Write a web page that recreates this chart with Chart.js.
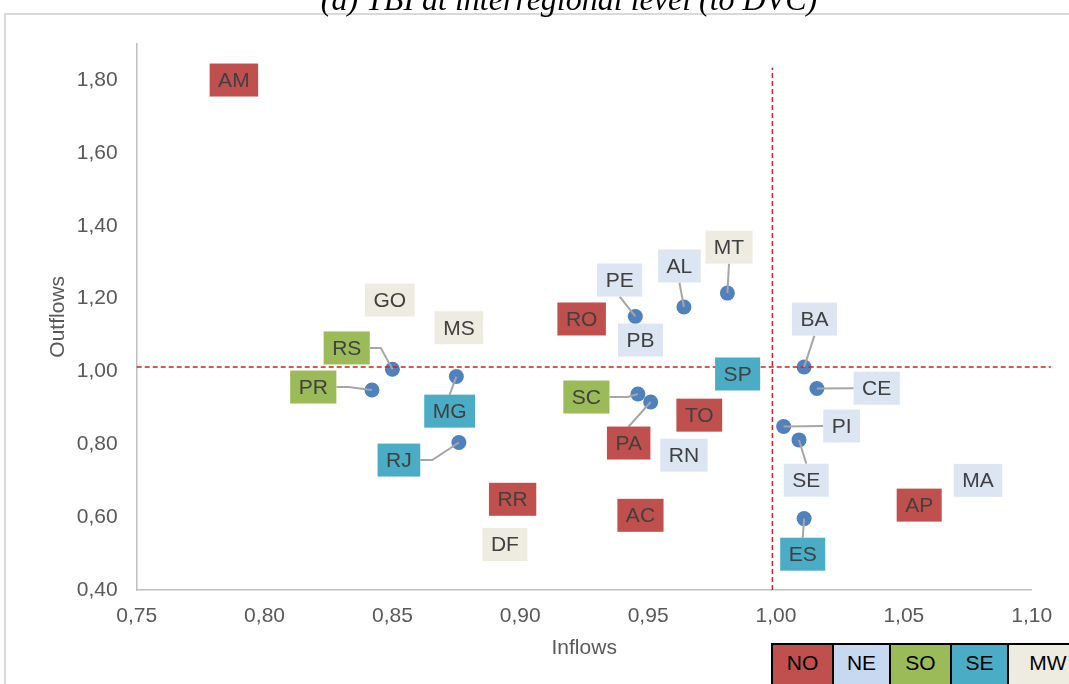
<!DOCTYPE html>
<html>
<head>
<meta charset="utf-8">
<script src="https://cdn.jsdelivr.net/npm/chart.js@4.4.1/dist/chart.umd.min.js"></script>
<style>
  html, body { margin: 0; padding: 0; background: #fff; }
  #wrap { position: relative; width: 1069px; height: 684px; overflow: hidden; }
  #frame { position: absolute; left: 4px; top: 13px; width: 1120px; height: 720px;
           border: 2px solid #d9d9d9; box-sizing: border-box; }
  #chart { position: absolute; left: 0; top: 0; }
  #legend { position: absolute; left: 771px; top: 643px; display: flex; height: 60px;
            border-top: 2px solid #000; border-left: 2px solid #000; }
  #legend div { height: 100%; border-right: 2px solid #000; box-sizing: border-box;
                font-family: "Liberation Sans Narrow", "Arial Narrow", "Liberation Sans", sans-serif;
                font-size: 21px; color: #000; text-align: center; line-height: 36px; }
</style>
</head>
<body>
<div id="wrap">
  <div id="frame"></div>
  <canvas id="chart" width="1069" height="684"></canvas>
  <div id="legend"></div>
</div>
<script>
// states and their TBI values
const STATES   = ['AM', 'GO', 'MS', 'RS', 'PR', 'MG', 'RJ', 'RR', 'DF', 'RO', 'PE', 'PB', 'AL', 'MT',
                  'SP', 'SC', 'PA', 'TO', 'RN', 'AC', 'BA', 'CE', 'PI', 'SE', 'ES', 'AP', 'MA'];
const INFLOWS  = [0.788, 0.849, 0.876, 0.850, 0.842, 0.875, 0.876, 0.897, 0.894, 0.924, 0.945, 0.947, 0.964, 0.981,
                  0.985, 0.946, 0.951, 0.970, 0.964, 0.947, 1.011, 1.016, 1.003, 1.009, 1.011, 1.056, 1.079];
const OUTFLOWS = [1.800, 1.196, 1.120, 1.006, 0.949, 0.986, 0.805, 0.649, 0.525, 1.144, 1.151, 1.086, 1.177, 1.215,
                  0.993, 0.938, 0.916, 0.880, 0.770, 0.605, 1.012, 0.953, 0.849, 0.812, 0.596, 0.633, 0.701];
const REGIONS  = ['NO', 'MW', 'MW', 'SO', 'SO', 'SE', 'SE', 'NO', 'MW', 'NO', 'NE', 'NE', 'NE', 'MW',
                  'SE', 'SO', 'NO', 'NO', 'NE', 'NO', 'NE', 'NE', 'NE', 'NE', 'SE', 'NO', 'NE'];

const REGION_NAMES = ['NO', 'NE', 'SO', 'SE', 'MW'];

const X_TICKS = [0.75, 0.80, 0.85, 0.90, 0.95, 1.00, 1.05, 1.10];
const Y_TICKS = [0.40, 0.60, 0.80, 1.00, 1.20, 1.40, 1.60, 1.80];

// reference (mean) lines
const REF_X = 0.9986;
const REF_Y = 1.012;
const REF_X_TOP = 1.834;
const REF_Y_END = 1.1075;

const REGION_COLORS = { NO: '#C0504D', NE: '#DCE6F2', SO: '#9BBB59', SE: '#4BACC6', MW: '#EEECE1' };
const LEGEND_COLORS = { NO: '#C0504D', NE: '#C6D9F1', SO: '#9BBB59', SE: '#4BACC6', MW: '#EEECE1' };
const LEGEND_WIDTHS = { NO: 61, NE: 57, SO: 61, SE: 57, MW: 80 };

// label boxes that were dragged away from their point (pixel offsets)
const LABEL_MOVES = {
  RS: { dx: -45.7, dy: -21.3, from: 'right', stub: 11 },
  PR: { dx: -58.7, dy: -3,    from: 'right', stub: 12 },
  MG: { dx: -6.7,  dy: 34.6,  from: 'top' },
  RJ: { dx: -60,   dy: 17.6,  from: 'right', stub: 12 },
  MT: { dx: 1.6,   dy: -46,   from: 'bottom' },
  AL: { dx: -4.5,  dy: -41,   from: 'bottom' },
  PE: { dx: -15.7, dy: -36.4, from: 'bottom' },
  SC: { dx: -51.5, dy: 3,     from: 'right', stub: 18 },
  PA: { dx: -22,   dy: 41,    from: 'top' },
  BA: { dx: 10.3,  dy: -48,   from: 'bottom' },
  CE: { dx: 59.8,  dy: -0.4,  from: 'left' },
  PI: { dx: 58,    dy: -0.4,  from: 'left' },
  SE: { dx: 7.3,   dy: 40.3,  from: 'top' },
  ES: { dx: -1.4,  dy: 35.6,  from: 'top' }
};

const fmt = v => Number(v).toFixed(2).replace('.', ',');

Chart.defaults.font.family = '"Liberation Sans", Arial, sans-serif';

const labelPlugin = {
  id: 'stateLabels',
  afterDatasetsDraw(chart) {
    const ctx = chart.ctx;
    const meta = chart.getDatasetMeta(0);
    ctx.save();
    ctx.font = '21px "Liberation Sans", Arial, sans-serif';
    const boxH = 33;
    const boxes = meta.data.map((pt, i) => {
      const mv = LABEL_MOVES[STATES[i]] || { dx: 0, dy: 0 };
      const w = ctx.measureText(STATES[i]).width + 17;
      return { px: pt.x, py: pt.y, cx: pt.x + mv.dx, cy: pt.y + mv.dy, w, mv };
    });

    // leader lines
    ctx.strokeStyle = '#A6A6A6';
    ctx.lineWidth = 2;
    boxes.forEach(b => {
      if (!b.mv.from) return;
      let sx = b.cx, sy = b.cy;
      if (b.mv.from === 'right')  sx = b.cx + b.w / 2;
      if (b.mv.from === 'left')   sx = b.cx - b.w / 2;
      if (b.mv.from === 'top')    sy = b.cy - boxH / 2;
      if (b.mv.from === 'bottom') sy = b.cy + boxH / 2;
      ctx.beginPath();
      ctx.moveTo(sx, sy);
      if (b.mv.stub) ctx.lineTo(sx + b.mv.stub, sy);
      ctx.lineTo(b.px, b.py);
      ctx.stroke();
    });

    // boxes
    ctx.textAlign = 'center';
    ctx.textBaseline = 'middle';
    boxes.forEach((b, i) => {
      ctx.fillStyle = REGION_COLORS[REGIONS[i]];
      ctx.fillRect(b.cx - b.w / 2, b.cy - boxH / 2, b.w, boxH);
      ctx.fillStyle = '#404040';
      ctx.fillText(STATES[i], b.cx, b.cy + 1);
    });
    ctx.restore();
  },
  afterDraw(chart) {
    const ctx = chart.ctx;
    ctx.save();
    ctx.font = 'italic 32px "Liberation Serif", "Times New Roman", serif';
    ctx.fillStyle = '#000';
    ctx.textAlign = 'center';
    ctx.textBaseline = 'alphabetic';
    ctx.fillText('(a) TBI at interregional level (to DVC)', 569, 10);
    ctx.restore();
  }
};

const refStyle = {
  type: 'line',
  showLine: true,
  borderColor: '#CC2229',
  borderWidth: 1.5,
  borderDash: [5, 3],
  pointRadius: 0,
  fill: false,
  clip: false,
  order: 1
};

new Chart(document.getElementById('chart').getContext('2d'), {
  type: 'scatter',
  data: {
    datasets: [
      {
        label: 'TBI',
        data: STATES.map((s, i) => ({ x: INFLOWS[i], y: OUTFLOWS[i] })),
        backgroundColor: '#4F81BD',
        borderWidth: 0,
        pointRadius: 7.5,
        order: 2
      },
      { ...refStyle, data: [{ x: REF_X, y: Y_TICKS[0] }, { x: REF_X, y: REF_X_TOP }] },
      { ...refStyle, data: [{ x: X_TICKS[0], y: REF_Y }, { x: REF_Y_END, y: REF_Y }] }
    ]
  },
  options: {
    responsive: false,
    animation: false,
    devicePixelRatio: 1,
    events: [],
    layout: { padding: { left: 0, top: 43.6, right: 37.3, bottom: 0 } },
    plugins: {
      legend: { display: false },
      tooltip: { enabled: false }
    },
    scales: {
      x: {
        type: 'linear',
        min: 0.75,
        max: 1.10,
        afterBuildTicks: s => { s.ticks = X_TICKS.map(v => ({ value: v })); },
        afterFit: s => { s.height = 94; },
        grid: { display: false, drawTicks: false },
        border: { color: '#BFBFBF', width: 1.5 },
        ticks: { callback: fmt, color: '#595959', font: { size: 21 }, padding: 14, maxRotation: 0, autoSkip: false },
        title: { display: true, text: 'Inflows', color: '#595959', font: { size: 21 }, padding: { top: 0, bottom: 23.4 } }
      },
      y: {
        type: 'linear',
        min: 0.40,
        max: 1.90,
        afterBuildTicks: s => { s.ticks = Y_TICKS.map(v => ({ value: v })); },
        afterFit: s => { s.width = 136.7; },
        grid: { display: false, drawTicks: false },
        border: { color: '#BFBFBF', width: 1.5 },
        ticks: { callback: fmt, color: '#595959', font: { size: 21 }, padding: 19, autoSkip: false },
        title: { display: true, text: 'Outflows', color: '#595959', font: { size: 21 }, padding: { top: 45.4, bottom: 0 } }
      }
    }
  },
  plugins: [labelPlugin]
});

// region legend (table under the plot)
document.getElementById('legend').innerHTML = REGION_NAMES.map(r =>
  `<div style="width:${LEGEND_WIDTHS[r]}px;background:${LEGEND_COLORS[r]};">${r}</div>`
).join('');
</script>
</body>
</html>
